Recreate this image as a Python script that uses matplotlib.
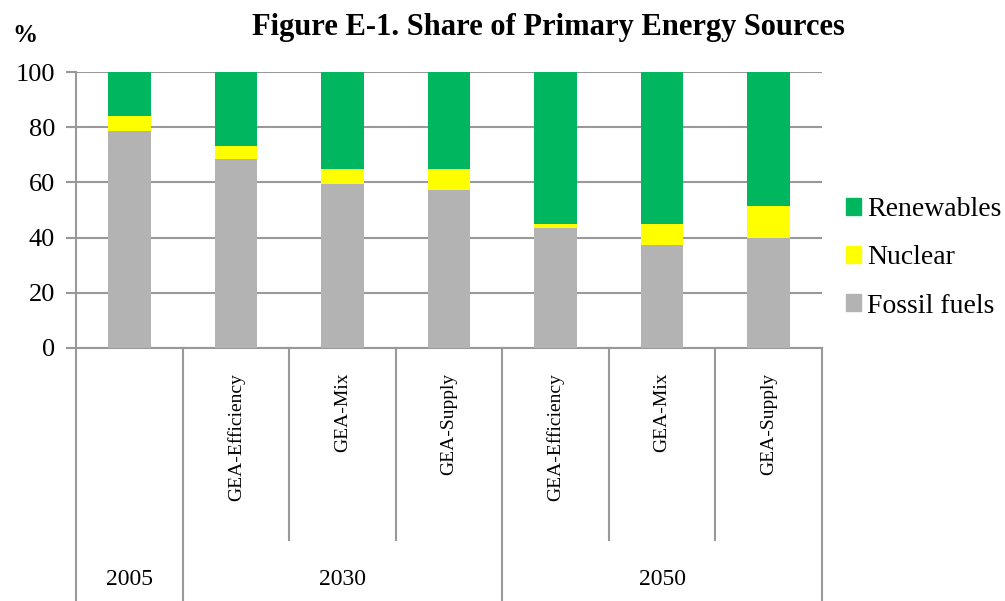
import matplotlib
matplotlib.use("Agg")
import matplotlib.pyplot as plt
from matplotlib.patches import Patch

# values (percent of primary energy)
scenarios = ["", "GEA-Efficiency", "GEA-Mix", "GEA-Supply",
             "GEA-Efficiency", "GEA-Mix", "GEA-Supply"]
years = ["2005", "2030", "2050"]
year_centers = [0, 2, 5]
fossil = [78.5, 68.6, 59.3, 57.2, 43.6, 37.5, 39.9]
nuclear = [5.4, 4.7, 5.4, 7.7, 1.4, 7.6, 11.6]
renewables = [16.1, 26.7, 35.3, 35.1, 55.0, 54.9, 48.5]

COLORS = {"fossil": "#b3b3b3", "nuclear": "#ffff00", "renew": "#00b75f"}
GRID = "#999999"
SERIF = ["Liberation Serif", "DejaVu Serif"]

W, H = 1005, 601
fig = plt.figure(figsize=(W / 100, H / 100), dpi=100)
ax = fig.add_axes([76 / W, 1 - 348 / H, (822 - 76) / W, (348 - 72) / H])

x = list(range(len(fossil)))
bot2 = [f + n for f, n in zip(fossil, nuclear)]
ax.bar(x, fossil, 0.4, color=COLORS["fossil"], zorder=3)
ax.bar(x, nuclear, 0.4, bottom=fossil, color=COLORS["nuclear"], zorder=3)
ax.bar(x, renewables, 0.4, bottom=bot2, color=COLORS["renew"], zorder=3)

ax.set_xlim(-0.5, 6.5)
ax.set_ylim(0, 100)
ax.set_yticks(range(0, 101, 20))
ax.set_yticklabels([str(v) for v in range(0, 101, 20)], family=SERIF, fontsize=19)
ax.set_xticks([])
ax.yaxis.grid(True, color=GRID, lw=1.5, zorder=0)
ax.tick_params(axis="y", length=7, width=1.5, color=GRID, pad=8)
for s in ("top", "right"):
    ax.spines[s].set_visible(False)
for s in ("left", "bottom"):
    ax.spines[s].set_color(GRID)
    ax.spines[s].set_linewidth(1.5)

# multi-level category axis
tr = ax.get_xaxis_transform()
inner_bottom = (348 - 540) / 276
outer_bottom = (348 - 601) / 276
for xv in (-0.5, 0.5, 3.5, 6.5):
    ax.plot([xv, xv], [0, outer_bottom], transform=tr, color=GRID, lw=1.5, clip_on=False)
for xv in (1.5, 2.5, 4.5, 5.5):
    ax.plot([xv, xv], [0, inner_bottom], transform=tr, color=GRID, lw=1.5, clip_on=False)
for xv, lab in zip(x, scenarios):
    if lab:
        ax.text(xv, (348 - 373) / 276, lab, transform=tr, rotation=90,
                ha="center", va="top", family=SERIF, fontsize=14)
for xv, lab in zip(year_centers, years):
    ax.text(xv, (348 - 580) / 276, lab, transform=tr, ha="center", va="center",
            family=SERIF, fontsize=17)

fig.text(548 / W, 1 - 28 / H, "Figure E-1. Share of Primary Energy Sources",
         ha="center", va="center", family=SERIF, fontsize=22, weight="bold")
fig.text(12 / W, 1 - 36 / H, "%", ha="left", va="center", family=SERIF,
         fontsize=18, weight="bold")

handles = [Patch(color=COLORS["renew"], label="Renewables"),
           Patch(color=COLORS["nuclear"], label="Nuclear"),
           Patch(color=COLORS["fossil"], label="Fossil fuels")]
fig.legend(handles=handles, loc="center left", bbox_to_anchor=(846 / W, 1 - 258 / H),
           frameon=False, prop={"family": SERIF, "size": 20}, borderpad=0,
           borderaxespad=0, handlelength=0.55, handleheight=0.55,
           handletextpad=0.2, labelspacing=0.83)

fig.savefig("out.png", dpi=100)
